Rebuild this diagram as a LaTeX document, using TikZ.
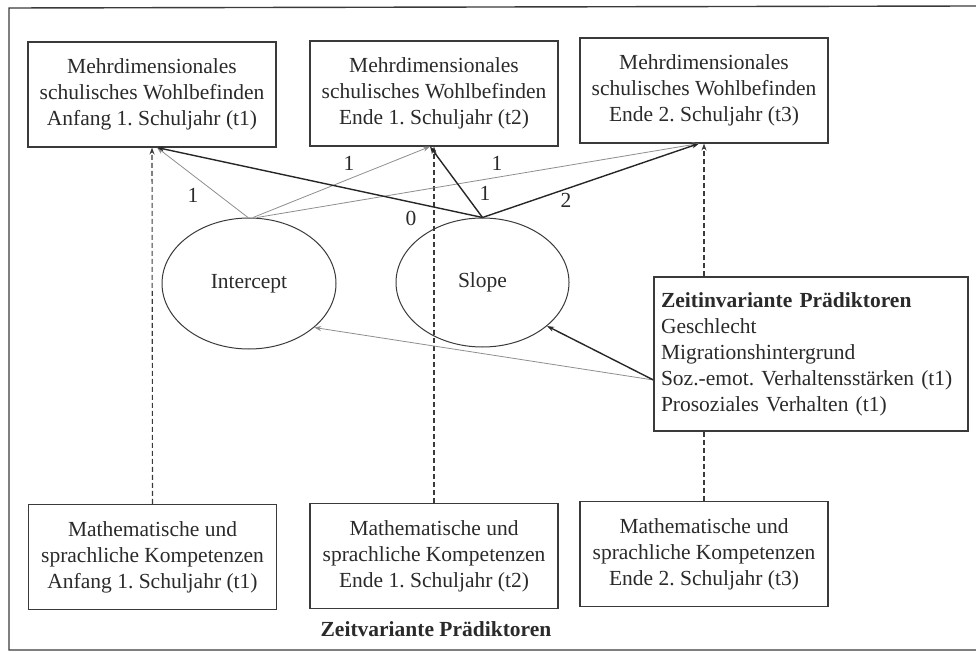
\documentclass[tikz,border=0pt]{standalone}
\usepackage{fontspec}
\setmainfont{Liberation Serif}
\usetikzlibrary{shapes.geometric,arrows.meta,calc}
\definecolor{boxc}{HTML}{3A3A3A}
\definecolor{lightc}{HTML}{8E8E8E}
\definecolor{darkc}{HTML}{262626}
\definecolor{textc}{HTML}{2A2A2A}
\newcommand\diafs{\fontsize{21.5}{26}\selectfont}
\frenchspacing
\begin{document}
\begin{tikzpicture}[x=1pt,y=-1pt,
  box/.style={draw=boxc,line width=1.1pt,minimum width=248pt,minimum height=105pt,
    align=center,inner sep=0pt,font=\diafs,text=textc},
  lat/.style={ellipse,draw=boxc,line width=1pt,inner sep=0pt,font=\diafs,text=textc},
  zbox/.style={draw=boxc,line width=1.1pt,fill=white,text width=300pt,inner xsep=7pt,
    minimum height=154pt,align=left,font=\diafs,text=textc},
  lbl/.style={font=\diafs,text=textc,inner sep=0pt},
  tip/.style={-{Stealth[length=7pt,width=5pt]}},
  ipath/.style={tip,draw=lightc,line width=0.8pt},
  spath/.style={tip,draw=darkc,line width=1.4pt},
  dpath/.style={draw=boxc,line width=1.1pt,dash pattern=on 5pt off 3pt},
  dtip/.style={dpath,-{Stealth[length=7pt,width=5pt,open]}},
  frame/.style={draw=boxc,line width=1.4pt}]
\useasboundingbox (0,0) rectangle (976,652);
\draw[frame] (976,6) -- (9,8) -- (9,650) -- (976,650);

% top boxes
\node[box] (t1) at (152,94.5) {Mehrdimensionales\\schulisches Wohlbefinden\\Anfang 1. Schuljahr (t1)};
\node[box] (t2) at (434,93.5) {Mehrdimensionales\\schulisches Wohlbefinden\\Ende 1. Schuljahr (t2)};
\node[box] (t3) at (704,90.5) {Mehrdimensionales\\schulisches Wohlbefinden\\Ende 2. Schuljahr (t3)};

% latent variables
\node[lat,minimum width=174pt,minimum height=131pt] (inter) at (249,283.5) {Intercept};
\node[lat,minimum width=173pt,minimum height=129pt] (slope) at (482.5,282.5) {Slope};

% bottom boxes
\node[box] (b1) at (152.5,557) {Mathematische und\\sprachliche Kompetenzen\\Anfang 1. Schuljahr (t1)};
\node[box] (b2) at (434,556) {Mathematische und\\sprachliche Kompetenzen\\Ende 1. Schuljahr (t2)};
\node[box] (b3) at (704,554) {Mathematische und\\sprachliche Kompetenzen\\Ende 2. Schuljahr (t3)};
\node[lbl,font=\diafs\bfseries] (zv) at (436,629) {Zeitvariante Prädiktoren};

% time-invariant predictors
\node[zbox] (zeit) at (811,354) {\textbf{Zeitinvariante Prädiktoren}\\Geschlecht\\Migrationshintergrund\\Soz.-emot. Verhaltensstärken (t1)\\Prosoziales Verhalten (t1)};

% arrow targets and sources
\coordinate (t1in) at ($(t1.south)+(5,0)$);
\coordinate (t2in) at ($(t2.south)+(-4,0)$);
\coordinate (t3in) at ($(t3.south)+(-5,0)$);
\coordinate (ia) at ($(inter.north)+(-1,0)$);
\coordinate (ib) at ($(inter.north)+(4,0)$);
\coordinate (ic) at ($(inter.north)+(8,0)$);
\coordinate (zsrc) at ($(zeit.west)+(0,26)$);

% dashed paths
\draw[dtip] (b1.north) -- (t1.south);
\draw[dtip] (b2.north) -- (t2.south);
\draw[dpath] (b3.north) -- (b3.north |- zeit.south);
\draw[dtip] (zeit.north -| t3.south) -- (t3.south);

% intercept loadings
\draw[ipath] (ia) -- (t1in);
\draw[ipath] (ib) -- (t2in);
\draw[ipath] (ic) -- (t3in);
% slope loadings
\draw[spath] (slope.north) -- (t1in);
\draw[spath] (slope.north) -- (t2in);
\draw[spath] (slope.north) -- (t3in);

% predictors
\draw[ipath] (zsrc) -- (inter.-34);
\draw[spath] (zsrc) -- (slope.-34);

% loading labels
\node[lbl] (l1) at (193,195) {1};
\node[lbl] (l2) at (349,163) {1};
\node[lbl] (l3) at (497,163) {1};
\node[lbl] (l4) at (411,218) {0};
\node[lbl] (l5) at (485,193) {1};
\node[lbl] (l6) at (566,200) {2};
\end{tikzpicture}
\end{document}
